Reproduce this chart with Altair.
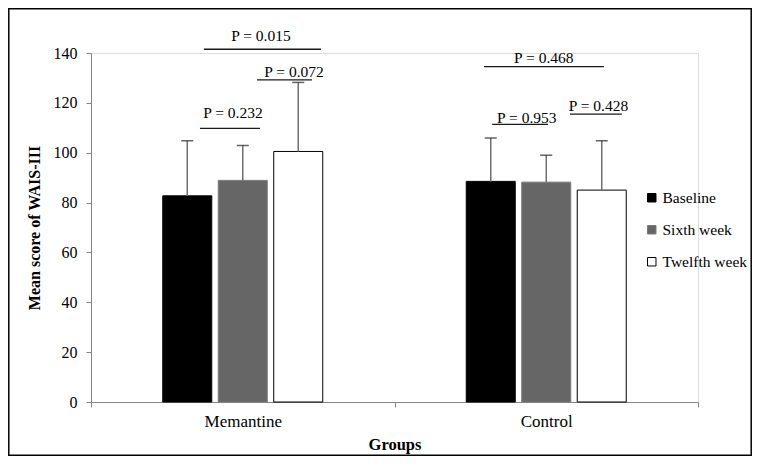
import altair as alt
import pandas as pd

groups = ["Memantine", "Control"]
series = ["Baseline", "Sixth week", "Twelfth week"]
mem_means = [82.7, 88.9, 100.5]
ctl_means = [88.5, 88.2, 85.0]
mem_sd = [22.1, 14.0, 27.7]
ctl_sd = [17.4, 10.8, 19.8]
y_ticks = [0, 20, 40, 60, 80, 100, 120, 140]

p_labels = ["P = 0.232", "P = 0.072", "P = 0.015", "P = 0.468", "P = 0.953", "P = 0.428"]
p_x_start = [0.359, 0.547, 0.372, 1.295, 1.322, 1.578]
p_x_end = [0.557, 0.728, 0.758, 1.690, 1.506, 1.749]
p_line_y = [109.8, 129.2, 141.5, 134.5, 111.4, 115.5]
p_text_x = [0.468, 0.669, 0.560, 1.492, 1.436, 1.672]
p_text_y = [113.8, 130.5, 144.9, 135.9, 112.0, 116.8]

FONT = "Liberation Serif"

rows = []
for g, means, sds in [(groups[0], mem_means, mem_sd), (groups[1], ctl_means, ctl_sd)]:
    for s, m, sd in zip(series, means, sds):
        rows.append({"group": g, "series": s, "mean": m, "upper": m + sd})
df = pd.DataFrame(rows)

ann = pd.DataFrame({
    "label": p_labels, "x1": p_x_start, "x2": p_x_end,
    "ly": p_line_y, "tx": p_text_x, "ty": p_text_y,
})

yscale = alt.Scale(domain=[0, 140], nice=False, zero=True)
yaxis = alt.Axis(title="Mean score of WAIS-III", values=y_ticks, grid=False,
                 domainColor="#868686", tickColor="#868686", tickSize=5,
                 labelPadding=9, labelFontSize=16, labelFont=FONT, labelColor="black",
                 titleFont=FONT, titleFontSize=16, titleFontWeight="bold",
                 titleColor="black", titlePadding=11)

x = alt.X("group:N", sort=groups,
          scale=alt.Scale(paddingInner=0, paddingOuter=0),
          axis=alt.Axis(title="Groups", labelAngle=0, tickBand="extent",
                        domainColor="#868686", tickColor="#868686", tickSize=5,
                        labelPadding=6, labelFontSize=17, labelFont=FONT,
                        labelColor="black", titleFont=FONT, titleFontSize=16.5,
                        titleFontWeight="bold", titleColor="black", titlePadding=7))
# empty slots either side of the three bars keep the cluster narrow within its band
offset_domain = ["_l"] + series + ["_r"]
xoff = alt.XOffset("series:N",
                   scale=alt.Scale(domain=offset_domain, paddingInner=0.117, paddingOuter=0.293))

base = alt.Chart(df)
bars = base.mark_bar(strokeWidth=1).encode(
    x=x, xOffset=xoff,
    y=alt.Y("mean:Q", scale=yscale, axis=yaxis),
    color=alt.Color("series:N", sort=series,
                    scale=alt.Scale(domain=series, range=["#000000", "#666666", "#ffffff"]),
                    legend=alt.Legend(title=None, orient="none", legendX=553, legendY=137,
                                      symbolType="square", symbolSize=72,
                                      symbolStrokeColor="black", symbolStrokeWidth=1,
                                      labelFontSize=15.5, labelFont=FONT, labelColor="black",
                                      rowPadding=15, labelOffset=3, padding=0)),
    stroke=alt.Stroke("series:N", sort=series,
                      scale=alt.Scale(domain=series, range=["#000000", "#7a7a7a", "#000000"]),
                      legend=None),
)
stems = base.mark_rule(color="#707070", strokeWidth=1.5).encode(
    x=x, xOffset=xoff,
    y=alt.Y("mean:Q", scale=yscale, axis=yaxis), y2="upper:Q")
caps = base.mark_tick(color="#222222", size=12, thickness=1.5).encode(
    x=x, xOffset=xoff,
    y=alt.Y("upper:Q", scale=yscale, axis=yaxis))

main = alt.layer(bars, stems, caps)

qx = alt.Scale(domain=[0, 2], nice=False, zero=False)
abase = alt.Chart(ann)
sig_lines = abase.mark_rule(color="#1a1a1a", strokeWidth=1.3).encode(
    x=alt.X("x1:Q", scale=qx, axis=None), x2="x2:Q",
    y=alt.Y("ly:Q", scale=yscale, axis=yaxis))
sig_text = abase.mark_text(font=FONT, fontSize=15.5, color="black", baseline="alphabetic").encode(
    x=alt.X("tx:Q", scale=qx, axis=None),
    y=alt.Y("ty:Q", scale=yscale, axis=yaxis),
    text="label:N")
annotations = alt.layer(sig_lines, sig_text)

frame = alt.Chart(pd.DataFrame({"k": [0]})).mark_rect(
    fill=None, stroke="black", strokeWidth=1.5).encode(
    x=alt.value(-82.2), x2=alt.value(660.2), y=alt.value(-44.2), y2=alt.value(402.2))

chart = alt.layer(main, annotations, frame).resolve_scale(x="independent").properties(
    width=607, height=349,
    padding={"left": 83, "top": 45, "right": 54, "bottom": 54},
    autosize=alt.AutoSizeParams(type="none"),
).configure_view(stroke=None).configure(font=FONT)

chart.save("out.html", embed_options={"renderer": "svg", "actions": False})
